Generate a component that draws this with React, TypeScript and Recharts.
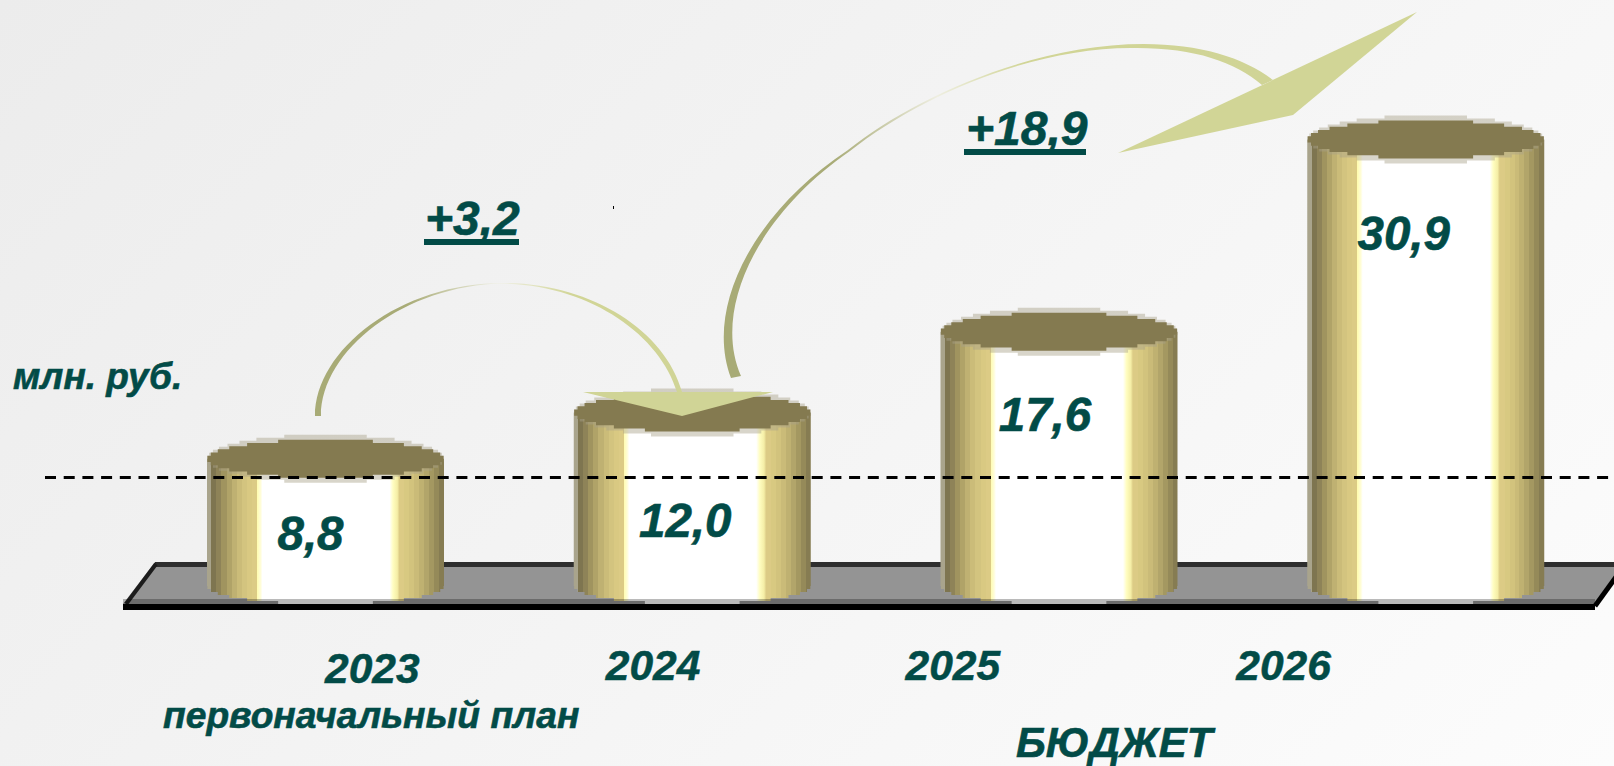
import { Bar, BarChart, LabelList, ReferenceLine, XAxis, YAxis } from "recharts";

const years = ["2023", "2024", "2025", "2026"];
const budget = [8.8, 12.0, 17.6, 30.9];
const planLine = 7.5;
const yMax = 40.55;

// hand placement of the texts, relative to where the axis / bar would put them
const yearNudge = [
  [47, 89],
  [-39, 86],
  [-106, 86],
  [-142, 86],
];
const valueNudge = [
  [-15, 91],
  [-7, 124],
  [-14, 99],
  [-22, 111],
];

const INK = "#024b47";
const FONT = '"Liberation Sans", Arial, sans-serif';

const chartData = years.map((year, i) => ({ year, value: budget[i] }));

const leftBands = ["#7e7550", "#8e8358", "#a0945f", "#b0a368", "#bfb172", "#cbbc79", "#d3c47f", "#d9c982", "#dccb85"];
const rightBands = ["#dccb85", "#d8c981", "#d2c37d", "#cabb78", "#bfb171", "#b2a56a", "#a49861", "#958a59", "#867c52"];

const bandStops = (colors: string[], from: number, to: number) => {
  const w = (to - from) / colors.length;
  return colors.flatMap((c, i) => [
    <stop key={`${from}-${i}a`} offset={from + i * w} stopColor={c} />,
    <stop key={`${from}-${i}b`} offset={from + (i + 1) * w} stopColor={c} />,
  ]);
};

// the source is a blown up bitmap, so the ellipses are cut in small rows
const ROW = 3.2;

const steppedHalf = (cx: number, cy: number, rx: number, ry: number, dir: 1 | -1) => {
  const n = Math.max(1, Math.round(ry / ROW));
  const h = ry / n;
  const halfWidth = (k: number) => rx * Math.sqrt(1 - ((k + 0.5) / n) ** 2);
  let d = "";
  for (let k = 0; k < n; k++) {
    const sx = cx + dir * halfWidth(k);
    d += ` L${sx} ${cy + dir * k * h} L${sx} ${cy + dir * (k + 1) * h}`;
  }
  for (let k = n - 1; k >= 0; k--) {
    const sx = cx - dir * halfWidth(k);
    d += ` L${sx} ${cy + dir * (k + 1) * h} L${sx} ${cy + dir * k * h}`;
  }
  return d;
};

const steppedEllipse = (cx: number, cy: number, rx: number, ry: number) =>
  `M${cx - rx} ${cy}${steppedHalf(cx, cy, rx, ry, -1)} L${cx + rx} ${cy}${steppedHalf(cx, cy, rx, ry, 1)} Z`;

const Cylinder = ({ x, y, width, height }: any) => {
  const cx = x + width / 2;
  const rx = width / 2;
  const base = y + height;
  return (
    <g>
      <path d={`M${x} ${y} L${x + width} ${y} L${x + width} ${base}${steppedHalf(cx, base, rx, 18, 1)} L${x} ${base} Z`} fill="url(#cylinderBody)" />
      <path d={steppedEllipse(cx, y, rx, 24)} fill="#a8a28a" opacity={0.45} />
      <path d={steppedEllipse(cx, y, rx, 19)} fill="#847a50" />
    </g>
  );
};

const YearTick = ({ x, y, payload, index }: any) => (
  <text
    x={x + yearNudge[index][0]}
    y={y + yearNudge[index][1]}
    textAnchor="middle"
    fontFamily={FONT}
    fontWeight="bold"
    fontStyle="italic"
    fontSize={42.5}
    fill={INK}
    stroke={INK}
    strokeWidth={0.5}
  >
    {payload.value}
  </text>
);

const ValueLabel = ({ x, y, width, value, index }: any) => (
  <text
    x={x + width / 2 + valueNudge[index][0]}
    y={y + valueNudge[index][1]}
    textAnchor="middle"
    fontFamily={FONT}
    fontWeight="bold"
    fontStyle="italic"
    fontSize={47.5}
    fill={INK}
    stroke={INK}
    strokeWidth={0.6}
  >
    {Number(value).toFixed(1).replace(".", ",")}
  </text>
);

const note = { fontFamily: FONT, fontWeight: "bold", fontStyle: "italic", fill: INK, stroke: INK, strokeWidth: 0.6 } as const;

export default function App() {
  return (
    <div
      style={{
        position: "absolute",
        left: 0,
        top: 0,
        width: 1614,
        height: 766,
        overflow: "hidden",
        background: "linear-gradient(135deg, #ececec 0%, #fcfcfc 100%)",
      }}
    >
      {/* floor, under the cylinders */}
      <svg width={1614} height={766} style={{ position: "absolute", left: 0, top: 0 }}>
        <polygon points="155,562 1630,562 1595,604 123,604" fill="#949494" />
        <rect x={155} y={562} width={1459} height={5} fill="#2e2e2e" />
        <line x1={126} y1={604} x2={156} y2={564} stroke="#1c1c1c" strokeWidth={4} />
        <line x1={1595} y1={606} x2={1624} y2={566} stroke="#000" strokeWidth={5} />
      </svg>

      <div style={{ position: "absolute", left: 0, top: 0 }}>
        <BarChart width={1614} height={766} data={chartData} margin={{ top: 0, right: 0, bottom: 0, left: 45 }} barSize={237}>
          <defs>
            <linearGradient id="cylinderBody" x1="0" y1="0" x2="1" y2="0">
              <stop offset={0} stopColor="#a9a48c" />
              <stop offset={0.018} stopColor="#a9a48c" />
              {bandStops(leftBands, 0.018, 0.212)}
              <stop offset={0.212} stopColor="#fffcb0" />
              <stop offset={0.226} stopColor="#fffdd8" />
              <stop offset={0.234} stopColor="#ffffff" />
              <stop offset={0.77} stopColor="#ffffff" />
              <stop offset={0.785} stopColor="#fffdc0" />
              <stop offset={0.803} stopColor="#f5eea6" />
              {bandStops(rightBands, 0.812, 1)}
            </linearGradient>
          </defs>
          <XAxis dataKey="year" height={180} axisLine={false} tickLine={false} interval={0} padding={{ left: 97, right: 5 }} tick={YearTick} />
          <YAxis hide domain={[0, yMax]} />
          <Bar dataKey="value" isAnimationActive={false} shape={Cylinder}>
            <LabelList dataKey="value" content={ValueLabel} />
          </Bar>
          <ReferenceLine y={planLine} stroke="#000" strokeWidth={3} strokeDasharray="11 7.7" />
        </BarChart>
      </div>

      {/* arrows, notes, front lip of the floor */}
      <svg width={1614} height={766} style={{ position: "absolute", left: 0, top: 0, pointerEvents: "none" }}>
        <defs>
          <linearGradient id="arcSmall" gradientUnits="userSpaceOnUse" x1={315} y1={0} x2={682} y2={0}>
            <stop offset={0} stopColor="#a8ab76" />
            <stop offset={0.25} stopColor="#a8ab76" />
            <stop offset={0.5} stopColor="#f0f0e4" />
            <stop offset={0.7} stopColor="#d1d596" />
            <stop offset={1} stopColor="#d0d496" />
          </linearGradient>
          <linearGradient id="arcBig" gradientUnits="userSpaceOnUse" x1={722} y1={0} x2={1273} y2={0}>
            <stop offset={0} stopColor="#a8ab76" />
            <stop offset={0.2} stopColor="#a8ab76" />
            <stop offset={0.39} stopColor="#eeeee0" />
            <stop offset={0.55} stopColor="#d1d596" />
            <stop offset={1} stopColor="#d0d496" />
          </linearGradient>
        </defs>

        <rect x={123} y={599} width={1472} height={5} fill="#000" opacity={0.27} />
        <rect x={123} y={604} width={1472} height={6} fill="#000" />

        <path
          d="M315 416 C315 350 400 283 503 283 C590 283 665 330 682 392 L677 392 C660 335 590 285 503 283.5 C405 285 321 350 321 416 Z"
          fill="url(#arcSmall)"
        />
        <polygon points="583,392 773,392 682,416" fill="#d0d496" />

        <path
          d="M731 378 C705 310 750 215 848 150 C910 100 1030 44 1144 44 C1200 44 1245 58 1273 80 L1262 85 C1235 62 1195 48 1137 48 C1035 46 920 96 850 151 C757 215 712 310 741 376 Z"
          fill="url(#arcBig)"
        />
        <polygon points="1417,12 1293,115 1118,153" fill="#d1d596" />

        <text x={425} y={235} fontSize={48} {...note}>+3,2</text>
        <rect x={424} y={239} width={95} height={6} fill={INK} />
        <text x={966} y={145} fontSize={48} {...note}>+18,9</text>
        <rect x={964} y={149} width={122} height={6} fill={INK} />
        <rect x={613} y={206} width={1} height={3} fill="#000" />

        <text x={13} y={389} fontSize={37} {...note}>млн. руб.</text>
        <text x={163} y={728} fontSize={37.2} {...note}>первоначальный план</text>
        <text x={1016} y={757} fontSize={42} {...note}>БЮДЖЕТ</text>
      </svg>
    </div>
  );
}
